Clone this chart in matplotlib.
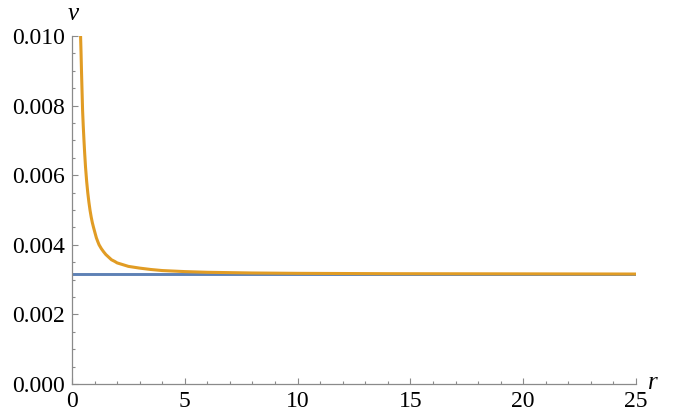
import matplotlib
matplotlib.use('Agg')
import matplotlib.pyplot as plt
from matplotlib.ticker import MultipleLocator, FormatStrFormatter

# 값은 그림에서 읽은 추정치
r_const = [0, 25]
v_const = [0.00316, 0.00316]

r_curve = [0.38, 0.40, 0.42, 0.44, 0.47, 0.50, 0.53, 0.56, 0.60, 0.65,
           0.70, 0.75, 0.80, 0.85, 0.90, 0.95, 1.00, 1.08, 1.15, 1.20,
           1.30, 1.40, 1.50, 1.60, 1.75, 1.90, 2.00, 2.20, 2.50, 3.00,
           3.50, 4.00, 5.00, 6.00, 8.00, 10.0, 14.0, 20.0, 25.0]
v_curve = [0.01000, 0.00954, 0.00901, 0.00854, 0.00785, 0.00740, 0.00701,
           0.00665, 0.00623, 0.00582, 0.00549, 0.00522, 0.00499, 0.00480,
           0.00464, 0.00451, 0.00439, 0.00420, 0.00408, 0.00400, 0.00389,
           0.00380, 0.00372, 0.00366, 0.00357, 0.00352, 0.00348, 0.00344,
           0.00338, 0.00333, 0.00329, 0.00326, 0.00323, 0.00321, 0.00319,
           0.00318, 0.00317, 0.003165, 0.00316]

plt.rcParams['font.family'] = ['Liberation Serif', 'DejaVu Serif']
plt.rcParams['font.size'] = 17

fig = plt.figure(figsize=(6.76, 4.15), dpi=100)
ax = fig.add_axes([72 / 676, 31 / 415, 564 / 676, 348 / 415])

ax.plot(r_const, v_const, color='#5E81B5', lw=2.1, solid_capstyle='butt')
ax.plot(r_curve, v_curve, color='#E19C24', lw=2.2, solid_capstyle='butt',
        solid_joinstyle='round')

ax.set_xlim(0, 25)
ax.set_ylim(0, 0.010)

ax.xaxis.set_major_locator(MultipleLocator(5))
ax.xaxis.set_minor_locator(MultipleLocator(1))
ax.yaxis.set_major_locator(MultipleLocator(0.002))
ax.yaxis.set_minor_locator(MultipleLocator(0.0005))
ax.yaxis.set_major_formatter(FormatStrFormatter('%.3f'))
ax.xaxis.set_major_formatter(FormatStrFormatter('%d'))

for s in ['top', 'right']:
    ax.spines[s].set_visible(False)
for s in ['left', 'bottom']:
    ax.spines[s].set_color('#8a8a8a')
    ax.spines[s].set_linewidth(0.9)

ax.tick_params(which='both', direction='in', color='#8a8a8a', width=0.8,
               labelsize=17, labelcolor='black')
ax.tick_params(which='major', length=4.5, pad=5)
ax.tick_params(which='minor', length=2.5)

# 축 이름 (축 끝에 표시)
fig.text(73 / 676, 1 - 14 / 415, 'v', fontsize=18, style='italic',
         ha='center', va='center')
fig.text(653 / 676, 1 - 383 / 415, 'r', fontsize=18, style='italic',
         ha='center', va='center')

fig.savefig('out.png', dpi=100)
